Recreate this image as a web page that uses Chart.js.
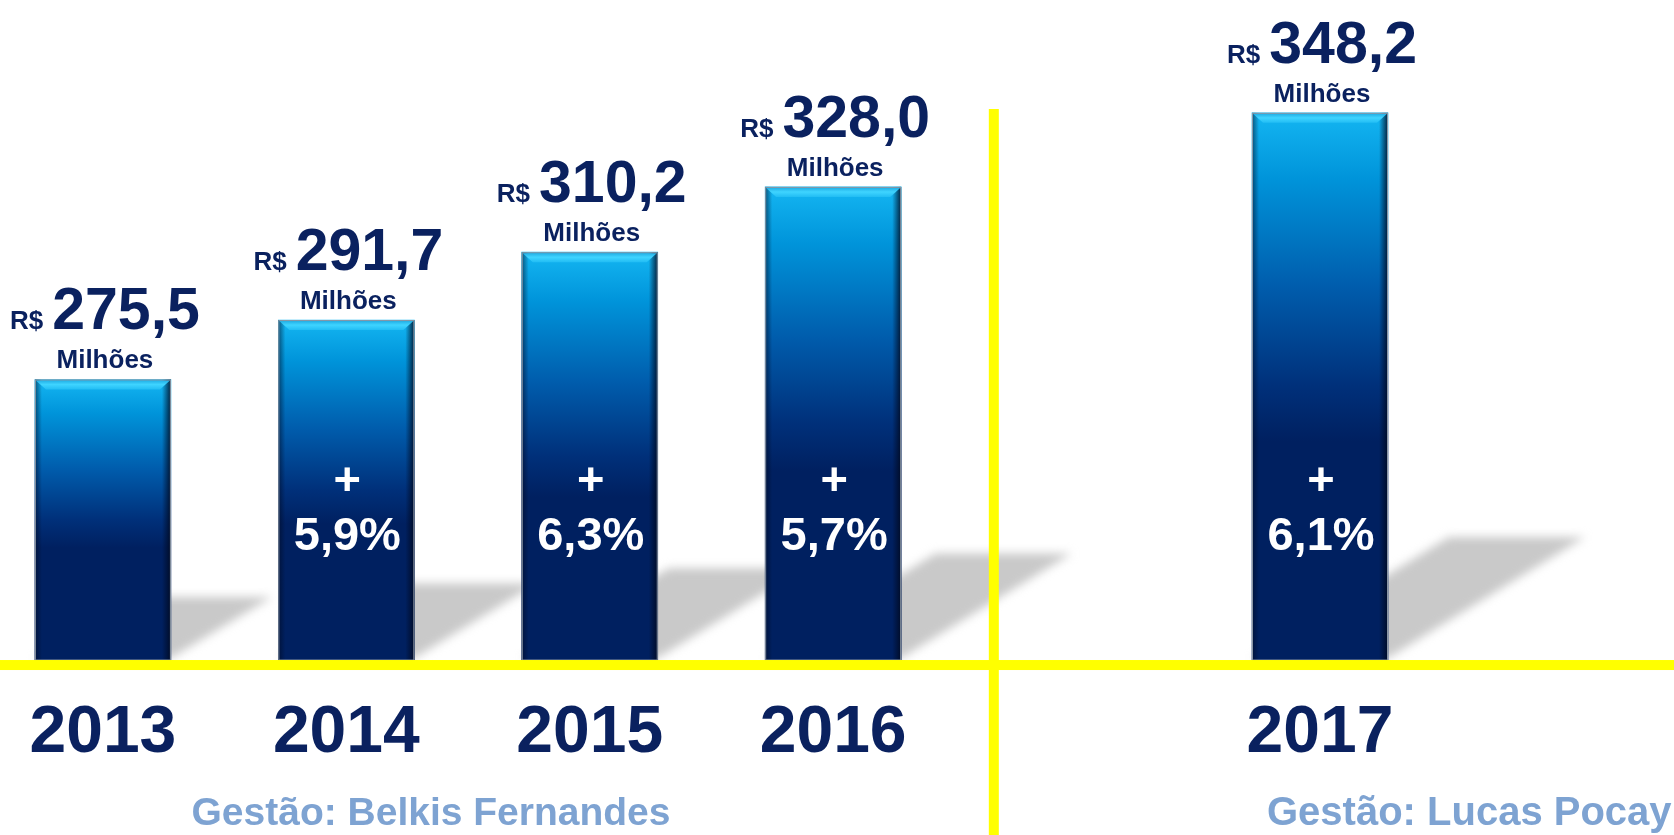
<!DOCTYPE html>
<html lang="pt-BR">
<head>
  <meta charset="UTF-8">
  <title>Evolução 2013 - 2017</title>
  <script src="https://cdn.jsdelivr.net/npm/chart.js"></script>
  <style>
    html, body { margin: 0; padding: 0; background: #fff; overflow: hidden; }
    #grafico { display: block; }
  </style>
</head>
<body>
  <canvas id="grafico" width="1674" height="835"></canvas>

  <script>
    // dados (slot vazio separa as duas gestões)
    const anos = ['2013', '2014', '2015', '2016', '', '2017'];
    const valores = [275.5, 291.7, 310.2, 328.0, null, 348.2];
    const crescimento = [null, 5.9, 6.3, 5.7, null, 6.1];
    const gestoes = ['Gestão: Belkis Fernandes', 'Gestão: Lucas Pocay'];

    const Y_MIN = 199;
    const Y_MAX = 348.7;
    const AZUL = '#0a215f';
    const FONTE = '"Liberation Sans", Arial, sans-serif';
    const fmt = v => v.toFixed(1).replace('.', ',');

    // gradiente de cada barra (azul claro no topo, azul marinho embaixo)
    function gradienteBarra(ctx) {
      const chart = ctx.chart;
      const v = ctx.raw;
      if (!chart.chartArea || v == null) return '#002060';
      const y = chart.scales.y;
      const topo = y.getPixelForValue(v);
      const base = y.getPixelForValue(Y_MIN);
      const g = chart.ctx.createLinearGradient(0, topo, 0, base);
      g.addColorStop(0, '#14b6f2');
      g.addColorStop(0.12, '#0094da');
      g.addColorStop(0.32, '#005cac');
      g.addColorStop(0.5, '#00307a');
      g.addColorStop(0.6, '#002060');
      g.addColorStop(1, '#002060');
      return g;
    }

    const decoracao = {
      id: 'decoracao',
      beforeDatasetsDraw(chart) {
        const ctx = chart.ctx;
        const meta = chart.getDatasetMeta(0);
        // sombras inclinadas atrás das barras
        ctx.save();
        ctx.filter = 'blur(5px)';
        ctx.fillStyle = '#c9c9c9';
        meta.data.forEach((el, i) => {
          if (valores[i] == null) return;
          const h = el.base - el.y;
          const sh = h * 0.225;
          const desl = sh * 1.6;
          const l = el.x - el.width / 2, r = el.x + el.width / 2;
          ctx.beginPath();
          ctx.moveTo(l, el.base - 2);
          ctx.lineTo(r, el.base - 2);
          ctx.lineTo(r + desl, el.base - sh);
          ctx.lineTo(l + desl, el.base - sh);
          ctx.closePath();
          ctx.fill();
        });
        ctx.restore();
      },
      afterDatasetsDraw(chart) {
        const ctx = chart.ctx;
        const meta = chart.getDatasetMeta(0);
        const area = chart.chartArea;

        meta.data.forEach((el, i) => {
          if (valores[i] == null) return;
          const l = el.x - el.width / 2, r = el.x + el.width / 2;
          const t = el.y, b = el.base;

          // bordas laterais escurecidas
          ctx.save();
          let g = ctx.createLinearGradient(r - 9, 0, r, 0);
          g.addColorStop(0, 'rgba(0,8,30,0)');
          g.addColorStop(1, 'rgba(0,8,30,0.85)');
          ctx.fillStyle = g;
          ctx.fillRect(r - 9, t, 9, b - t);
          g = ctx.createLinearGradient(l, 0, l + 7, 0);
          g.addColorStop(0, 'rgba(0,8,30,0.55)');
          g.addColorStop(1, 'rgba(0,8,30,0)');
          ctx.fillStyle = g;
          ctx.fillRect(l, t, 7, b - t);

          // chanfro claro no topo
          ctx.beginPath();
          ctx.moveTo(l + 1, t + 1);
          ctx.lineTo(r - 1, t + 1);
          ctx.lineTo(r - 11, t + 10);
          ctx.lineTo(l + 11, t + 10);
          ctx.closePath();
          g = ctx.createLinearGradient(0, t, 0, t + 10);
          g.addColorStop(0, '#1aa6e0');
          g.addColorStop(0.5, '#3fd4ff');
          g.addColorStop(1, '#22bdf4');
          ctx.fillStyle = g;
          ctx.fill();
          ctx.strokeStyle = '#8a96a4';
          ctx.lineWidth = 1;
          ctx.strokeRect(l + 0.5, t + 0.5, r - l - 1, b - t - 0.5);
          ctx.restore();

          // rótulos de valor acima da barra
          ctx.save();
          ctx.fillStyle = AZUL;
          ctx.textBaseline = 'alphabetic';
          const cx = el.x + 2;
          ctx.font = 'bold 26px ' + FONTE;
          const wr = ctx.measureText('R$').width;
          ctx.font = 'bold 59px ' + FONTE;
          const num = fmt(valores[i]);
          const wn = ctx.measureText(num).width;
          const x0 = cx - (wr + 9 + wn) / 2;
          ctx.textAlign = 'left';
          ctx.font = 'bold 26px ' + FONTE;
          ctx.fillText('R$', x0, t - 50);
          ctx.font = 'bold 59px ' + FONTE;
          ctx.fillText(num, x0 + wr + 9, t - 50);
          ctx.textAlign = 'center';
          ctx.font = 'bold 26px ' + FONTE;
          ctx.fillText('Milhões', cx, t - 11);

          // crescimento dentro da barra
          if (crescimento[i] != null) {
            ctx.fillStyle = '#ffffff';
            ctx.font = 'bold 47px ' + FONTE;
            ctx.textBaseline = 'middle';
            ctx.fillText('+', el.x + 1, b - 178);
            ctx.textBaseline = 'alphabetic';
            ctx.fillText(fmt(crescimento[i]) + '%', el.x + 1, b - 110);
          }
          ctx.restore();
        });

        // linhas amarelas: base e divisória entre gestões
        ctx.save();
        ctx.fillStyle = '#ffff00';
        ctx.fillRect(0, area.bottom, chart.width, 10);
        const xd = chart.scales.x.getPixelForValue(3.66);
        ctx.fillRect(xd - 5, area.top - 2, 10, chart.height - area.top + 2);
        ctx.restore();

        // nomes das gestões
        ctx.save();
        ctx.fillStyle = '#7ea3d2';
        ctx.font = 'bold 39px ' + FONTE;
        ctx.textBaseline = 'alphabetic';
        ctx.textAlign = 'center';
        ctx.fillText(gestoes[0], 431, 825);
        ctx.textAlign = 'left';
        ctx.font = 'bold 40px ' + FONTE;
        ctx.fillText(gestoes[1], 1267, 825);
        ctx.restore();
      }
    };

    new Chart(document.getElementById('grafico'), {
      type: 'bar',
      data: {
        labels: anos,
        datasets: [{
          data: valores,
          base: Y_MIN,
          clip: false,
          backgroundColor: gradienteBarra,
          borderWidth: 0,
          barThickness: 136
        }]
      },
      options: {
        responsive: false,
        animation: false,
        layout: { padding: { left: 92, right: 354, top: 111, bottom: 28 } },
        scales: {
          x: {
            offset: false,
            grid: { display: false, drawTicks: false },
            border: { display: false },
            ticks: {
              color: AZUL,
              padding: 29.5,
              autoSkip: false,
              maxRotation: 0,
              font: { family: FONTE, size: 66, weight: 'bold', lineHeight: 1.333 }
            }
          },
          y: { display: false, min: Y_MIN, max: Y_MAX }
        },
        plugins: {
          legend: { display: false },
          tooltip: { enabled: false }
        }
      },
      plugins: [decoracao]
    });
  </script>
</body>
</html>
